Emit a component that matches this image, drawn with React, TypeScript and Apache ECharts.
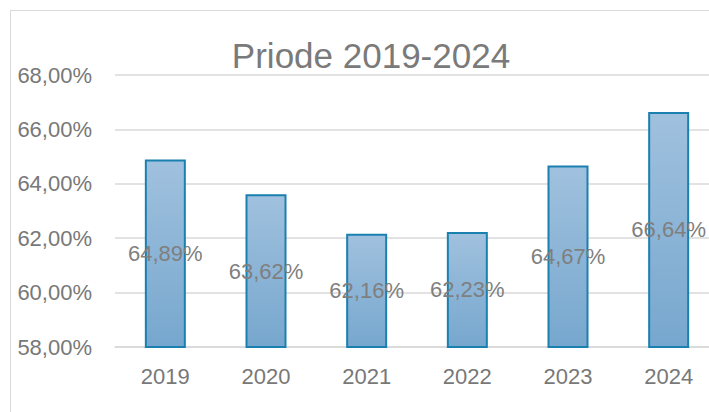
import React, { useEffect, useRef } from "react";
import * as echarts from "echarts";

const categories = ["2019", "2020", "2021", "2022", "2023", "2024"];
const values = [64.89, 63.62, 62.16, 62.23, 64.67, 66.64];
const titleText = "Priode 2019-2024";
const yMin = 58;
const yMax = 68;
const yStep = 2;

const fmt = (v: number) => v.toFixed(2).replace(".", ",") + "%";

export default function App() {
  const ref = useRef<HTMLDivElement>(null);
  useEffect(() => {
    if (!ref.current) return;
    const chart = echarts.init(ref.current, undefined, { renderer: "svg" });
    const font = "Liberation Sans, Arial, sans-serif";
    chart.setOption({
      animation: false,
      title: {
        text: titleText,
        left: 366,
        top: 33,
        textAlign: "center",
        textStyle: { fontFamily: font, fontSize: 35, fontWeight: "normal", color: "#7a7a7a" },
      },
      grid: { left: 115, top: 75, width: 604, height: 272, containLabel: false },
      xAxis: {
        type: "category",
        data: categories,
        axisTick: { show: false },
        axisLine: { lineStyle: { color: "#d9d9d9", width: 1.5 } },
        axisLabel: { fontFamily: font, fontSize: 22, color: "#787878", margin: 18 },
      },
      yAxis: {
        type: "value",
        min: yMin,
        max: yMax,
        interval: yStep,
        axisLine: { show: false },
        axisTick: { show: false },
        splitLine: { lineStyle: { color: "#d9d9d9", width: 1.5 } },
        axisLabel: { fontFamily: font, fontSize: 22, color: "#787878", margin: 23, formatter: (v: number) => fmt(v) },
      },
      series: [
        {
          type: "bar",
          data: values,
          barWidth: 41,
          itemStyle: {
            color: new echarts.graphic.LinearGradient(0, 0, 0, 1, [
              { offset: 0, color: "#a0c1de" },
              { offset: 1, color: "#77a7ce" },
            ]),
            borderColor: "#1a80b0",
            borderWidth: 2,
          },
          label: {
            show: true,
            position: "inside",
            fontFamily: font,
            fontSize: 22,
            color: "#7f7f7f",
            formatter: (p: any) => fmt(p.value),
          },
        },
      ],
    });
    return () => chart.dispose();
  }, []);
  return (
    <div style={{ position: "fixed", left: 0, top: 0, right: 0, bottom: 0, overflow: "hidden", background: "#fff" }}>
      <div
        style={{
          position: "absolute",
          left: 10,
          top: 10,
          width: 760,
          height: 460,
          border: "1.5px solid #d9d9d9",
          boxSizing: "border-box",
        }}
      />
      <div ref={ref} style={{ position: "absolute", left: 0, top: 0, width: 740, height: 440 }} />
    </div>
  );
}
